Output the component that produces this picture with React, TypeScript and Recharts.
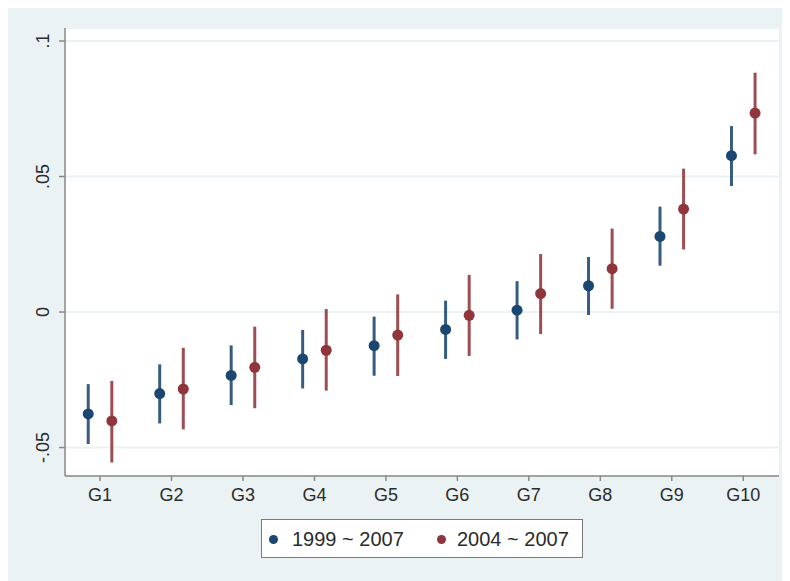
import { ScatterChart, Scatter, XAxis, YAxis, CartesianGrid, ErrorBar, Legend } from 'recharts'

const groups = ['G1', 'G2', 'G3', 'G4', 'G5', 'G6', 'G7', 'G8', 'G9', 'G10']
const groupPos = [1, 2, 3, 4, 5, 6, 7, 8, 9, 10]
const seriesNames = ['1999 ~ 2007', '2004 ~ 2007']

const est1999 = [-0.0376, -0.0301, -0.0234, -0.0173, -0.0124, -0.0064, 0.0007, 0.0097, 0.0279, 0.0577]
const lo1999 = [-0.0487, -0.0411, -0.0343, -0.0282, -0.0235, -0.0173, -0.0101, -0.0011, 0.0171, 0.0465]
const hi1999 = [-0.0266, -0.0193, -0.0123, -0.0066, -0.0017, 0.0042, 0.0114, 0.0203, 0.0389, 0.0686]

const est2004 = [-0.0402, -0.0284, -0.0204, -0.0141, -0.0085, -0.0012, 0.0068, 0.016, 0.038, 0.0734]
const lo2004 = [-0.0555, -0.0433, -0.0355, -0.029, -0.0236, -0.0162, -0.0081, 0.0012, 0.0231, 0.0582]
const hi2004 = [-0.0254, -0.0132, -0.0054, 0.0011, 0.0065, 0.0137, 0.0214, 0.0308, 0.0529, 0.0883]

const yTicks = [-0.05, 0, 0.05, 0.1]
const yTickLabels = ['-.05', '0', '.05', '.1']

const BLUE = '#1a476f'
const RED = '#90353b'
const FONT = '"Liberation Sans", Arial, sans-serif'
const TEXT = '#2b2b2b'
const SHIFT = 0.165

function rows(est: number[], lo: number[], hi: number[], shift: number) {
  return est.map((v, i) => ({ x: groupPos[i] + shift, y: v, err: [v - lo[i], hi[i] - v] }))
}

const data1999 = rows(est1999, lo1999, hi1999, -SHIFT)
const data2004 = rows(est2004, lo2004, hi2004, SHIFT)

function Dot(color: string) {
  return (p: any) => <circle cx={p.cx} cy={p.cy} r={5.5} fill={color} />
}

function YTick({ x, y, payload }: any) {
  const label = yTickLabels[yTicks.indexOf(payload.value)]
  return (
    <text x={x} y={y} transform={`rotate(-90, ${x}, ${y})`} textAnchor="middle" fill={TEXT} fontSize={18} fontFamily={FONT}>
      {label}
    </text>
  )
}

function LegendBox() {
  const marker = (left: number, color: string) => (
    <span style={{ position: 'absolute', left, top: 15, width: 9, height: 9, borderRadius: '50%', background: color }} />
  )
  const label = (left: number, text: string) => (
    <span style={{ position: 'absolute', left, top: 8, fontSize: 20, lineHeight: '22px', color: TEXT, fontFamily: FONT, whiteSpace: 'nowrap' }}>
      {text}
    </span>
  )
  return (
    <div style={{ position: 'relative', width: 322, height: 39, boxSizing: 'border-box', border: '1.5px solid #7a7a7a', background: '#fff' }}>
      {marker(7, BLUE)}
      {label(30, seriesNames[0])}
      {marker(175, RED)}
      {label(195, seriesNames[1])}
    </div>
  )
}

export default function App() {
  return (
    <div style={{ width: 776, height: 573, background: '#eaf2f3', marginLeft: -1 }}>
      <ScatterChart width={776} height={573} margin={{ top: 20, right: 4, left: 0, bottom: 75 }}>
        <CartesianGrid vertical={false} stroke="#eaf2f3" strokeWidth={2} fill="#ffffff" />
        <XAxis
          type="number"
          dataKey="x"
          domain={[0.51, 10.5]}
          ticks={groupPos}
          tickFormatter={(v: number) => groups[v - 1]}
          interval={0}
          height={30}
          tickSize={5}
          tickMargin={7}
          stroke="#888"
          strokeWidth={1.5}
          tick={{ fill: TEXT, fontSize: 18, fontFamily: FONT }}
        />
        <YAxis
          type="number"
          dataKey="y"
          domain={[-0.0605, 0.1048]}
          ticks={yTicks}
          allowDataOverflow
          width={58}
          tickSize={6}
          tickMargin={10}
          stroke="#888"
          strokeWidth={1.5}
          tick={<YTick />}
        />
        <Legend
          layout="horizontal"
          verticalAlign="middle"
          align="center"
          wrapperStyle={{ left: 254, top: 511, width: 322, height: 39 }}
          content={<LegendBox />}
        />
        <Scatter name={seriesNames[0]} data={data1999} fill={BLUE} shape={Dot(BLUE)} isAnimationActive={false}>
          <ErrorBar dataKey="err" direction="y" width={0} stroke={BLUE} strokeOpacity={0.88} strokeWidth={3} isAnimationActive={false} />
        </Scatter>
        <Scatter name={seriesNames[1]} data={data2004} fill={RED} shape={Dot(RED)} isAnimationActive={false}>
          <ErrorBar dataKey="err" direction="y" width={0} stroke={RED} strokeOpacity={0.88} strokeWidth={3} isAnimationActive={false} />
        </Scatter>
      </ScatterChart>
    </div>
  )
}
